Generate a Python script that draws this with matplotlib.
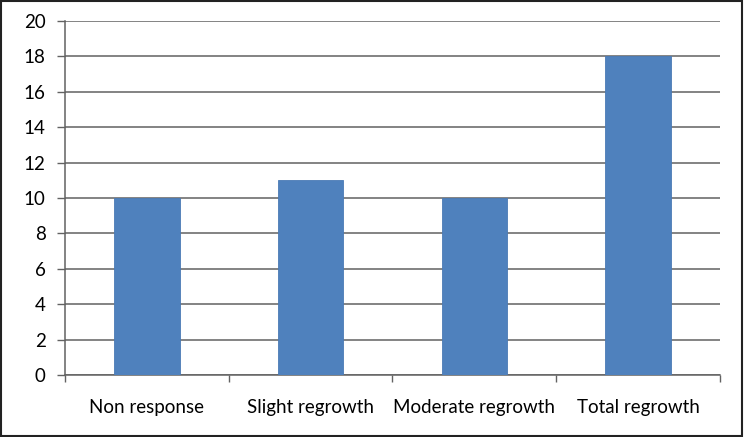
import matplotlib.pyplot as plt
from matplotlib.patches import Rectangle

categories = ["Non response", "Slight regrowth", "Moderate regrowth", "Total regrowth"]
values = [10, 11, 10, 18]

plt.rcParams['font.family'] = ['Lato', 'DejaVu Sans']

fig = plt.figure(figsize=(7.44, 4.37), dpi=100)
ax = fig.add_axes([0.0874, 0.1419, 0.8803, 0.8101])

x = list(range(len(categories)))
ax.bar(x, values, width=0.4, color='#4F81BD', edgecolor='#4A7AB5', linewidth=0.6, zorder=3)

ax.set_xlim(-0.5, len(categories) - 0.5)
ax.set_ylim(0, 20)
ax.set_yticks(range(0, 21, 2))
ax.yaxis.grid(True, color='#626262', linewidth=1.1, zorder=0)
ax.set_axisbelow(True)

ax.set_xticks([i - 0.5 for i in range(len(categories) + 1)])
ax.set_xticks(x, minor=True)
ax.set_xticklabels([])
ax.set_xticklabels(categories, minor=True)
ax.tick_params(axis='x', which='major', direction='out', length=5, color='#626262', width=1)
ax.tick_params(axis='x', which='minor', length=0, pad=17, labelsize=13.5)
ax.tick_params(axis='y', direction='out', length=6, color='#626262', width=1, pad=8, labelsize=13.5)

for s in ['top', 'right']:
    ax.spines[s].set_visible(False)
ax.spines['left'].set_color('#626262')
ax.spines['bottom'].set_color('#626262')
ax.spines['left'].set_linewidth(1.1)
ax.spines['bottom'].set_linewidth(1.1)

fig.patches.append(Rectangle((0.002, 0.003), 0.995, 0.994, transform=fig.transFigure,
                             fill=False, edgecolor='#222222', linewidth=1.5))

fig.savefig('out.png', dpi=100)
